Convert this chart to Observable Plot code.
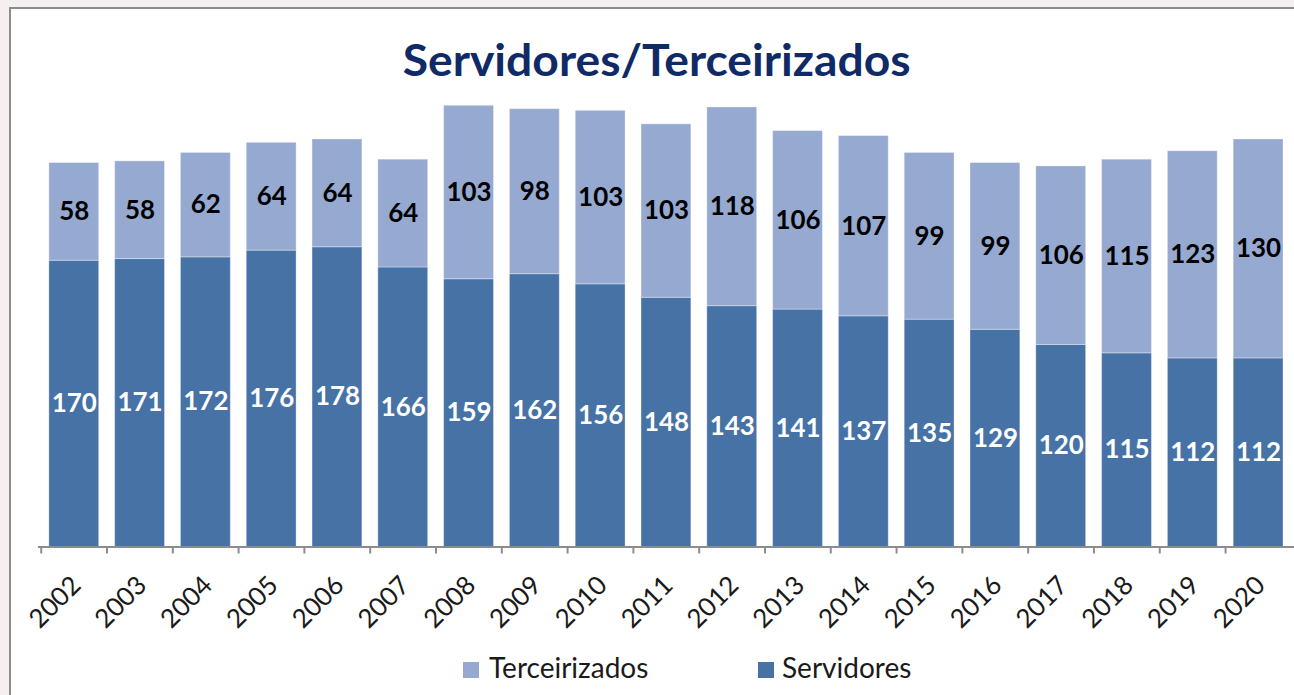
<!DOCTYPE html>
<html>
<head>
<meta charset="utf-8">
<script src="https://cdn.jsdelivr.net/npm/d3@7"></script>
<script src="https://cdn.jsdelivr.net/npm/@observablehq/plot@0.6"></script>
<style>
  html, body { margin: 0; padding: 0; overflow: hidden; width: 1294px; height: 695px; background: #f5efef; font-family: Lato, "Open Sans", sans-serif; }
  #frame { position: absolute; left: 9px; top: 7px; width: 1400px; height: 760px; border: 2.5px solid #8c8c8c; border-right: none; border-bottom: none; background: #ffffff; box-sizing: border-box; }
  #title { position: absolute; left: 0; top: 37px; width: 1314px; text-align: center; font: bold 44px Lato, sans-serif; line-height: 44px; color: #0f2a66; white-space: nowrap; }
  #title span { display: inline-block; transform-origin: center; }
  #chart { position: absolute; left: 0; top: 70px; }
  .sw { position: absolute; width: 16px; height: 16px; }
  .lt { position: absolute; font: 28px Lato, sans-serif; line-height: 28px; color: #1a1a1a; white-space: nowrap; }
</style>
</head>
<body>
<div id="frame"></div>
<div id="title"><span>Servidores/Terceirizados</span></div>
<div id="chart"></div>
<div id="legend"></div>
<script>
const years = ["2002","2003","2004","2005","2006","2007","2008","2009","2010","2011","2012","2013","2014","2015","2016","2017","2018","2019","2020"];
const servidores = [170,171,172,176,178,166,159,162,156,148,143,141,137,135,129,120,115,112,112];
const terceirizados = [58,58,62,64,64,64,103,98,103,103,118,106,107,99,99,106,115,123,130];
const seriesNames = ["Servidores", "Terceirizados"];
const seriesColors = ["#4672a6", "#95a9d1"];
const labelColors = ["#ffffff", "#000000"];

const data = [];
years.forEach((y, i) => {
  data.push({year: y, series: "Servidores", value: servidores[i]});
  data.push({year: y, series: "Terceirizados", value: terceirizados[i]});
});

const W = 1298, H = 580, mL = 38, mB = 102, mT = 5;
const step = (W - mL) / years.length;

const plot = Plot.plot({
  width: W,
  height: H,
  marginLeft: mL,
  marginRight: 0,
  marginTop: mT,
  marginBottom: mB,
  style: {background: "transparent", overflow: "visible"},
  x: {domain: years, paddingInner: 0.24, paddingOuter: 0.12, axis: null, label: null},
  y: {domain: [0, 280], axis: null},
  color: {domain: seriesNames, range: seriesColors},
  marks: [
    Plot.barY(data, Plot.stackY({x: "year", y: "value", fill: "series", order: seriesNames, stroke: "#ffffff", strokeOpacity: 0.35, strokeWidth: 1})),
    Plot.text(data, Plot.stackY({
      x: "year", y: "value", z: "series", order: seriesNames, text: d => String(d.value),
      fill: d => labelColors[seriesNames.indexOf(d.series)],
      fontSize: 26, fontWeight: "bold", fontFamily: "Lato"
    })),
    Plot.ruleY([0], {stroke: "#8c8c8c", strokeWidth: 2}),
    Plot.axisX({domain: years, label: null, tickSize: 7, tickFormat: () => "", dx: -step / 2, stroke: "#8c8c8c", strokeWidth: 2, strokeOpacity: 1}),
    Plot.text(years, {
      x: d => d, frameAnchor: "bottom", text: d => d,
      rotate: -45, textAnchor: "end", lineAnchor: "bottom",
      dx: 8, dy: 40, fontSize: 26, fontFamily: "Lato", fill: "#1a1a1a"
    })
  ]
});
document.getElementById("chart").appendChild(plot);

// title horizontal fit (Calibri is narrower than the substitute font)
const span = document.querySelector("#title span");
const tw = span.getBoundingClientRect().width;
span.style.transform = `scaleX(${508 / tw})`;

// legend
const legendItems = [
  {name: "Terceirizados", color: seriesColors[1], sx: 463, tx: 489},
  {name: "Servidores", color: seriesColors[0], sx: 758, tx: 782}
];
const lg = document.getElementById("legend");
legendItems.forEach(it => {
  const s = document.createElement("div");
  s.className = "sw";
  s.style.left = it.sx + "px"; s.style.top = "662px"; s.style.background = it.color;
  lg.appendChild(s);
  const t = document.createElement("div");
  t.className = "lt";
  t.style.left = it.tx + "px"; t.style.top = "653px";
  t.textContent = it.name;
  lg.appendChild(t);
});
</script>
</body>
</html>
